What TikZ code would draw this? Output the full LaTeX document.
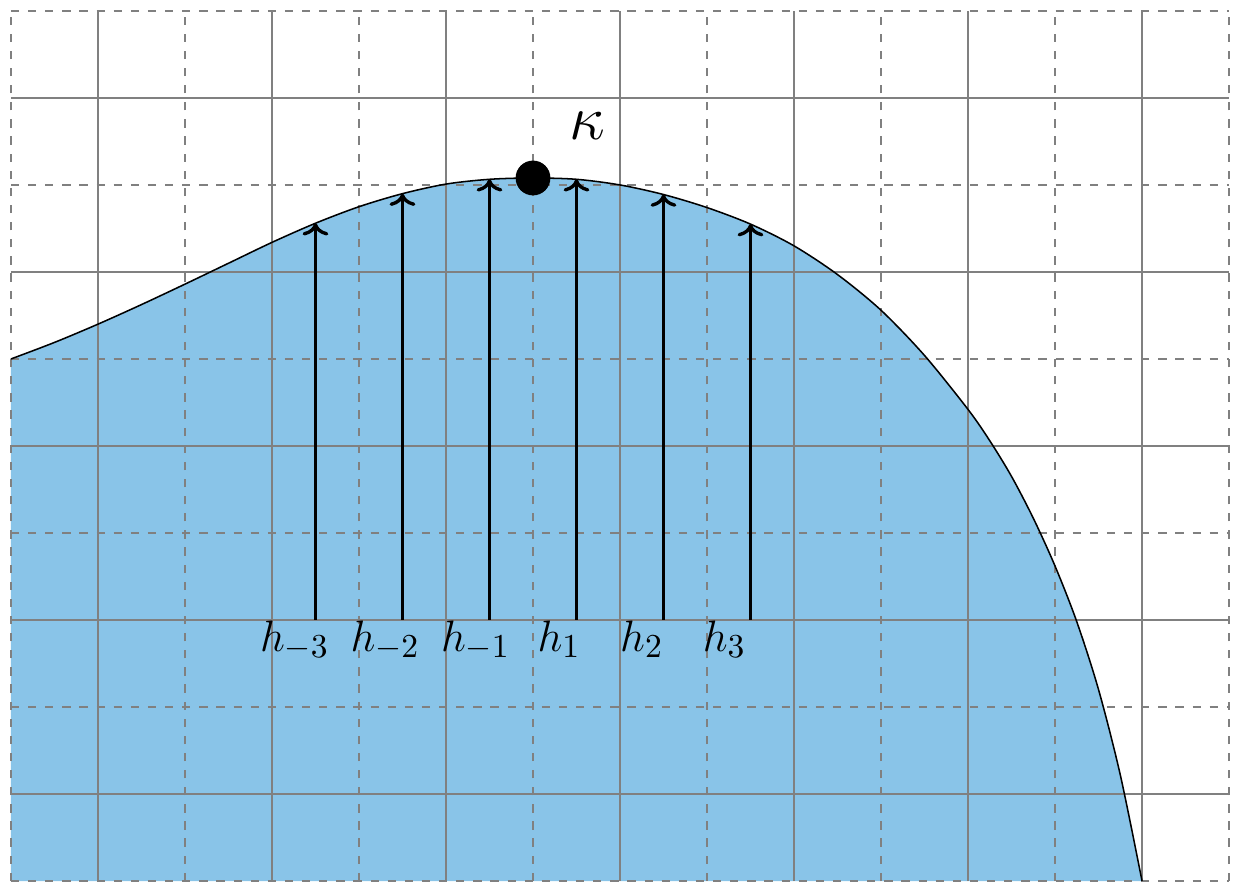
\documentclass[tikz,border=0pt]{standalone}
\usepackage{amsmath}
\usepackage{amssymb}
\usepackage{tikz}
\usetikzlibrary{arrows.meta, positioning}
\definecolor{areablue}{RGB}{137,196,232}
\colorlet{gridgray}{black!50}

\begin{document}
\begin{tikzpicture}[>=To,
    gridline/.style={draw=gridgray, line width=0.6pt},
    griddash/.style={gridline, dash pattern=on 2.7pt off 2.9pt},
    heightarrow/.style={->, line width=1.1pt},
    hlabel/.style={anchor=north, inner sep=0pt, font=\fontsize{15pt}{18pt}\selectfont}]
    \useasboundingbox (-0.126, -0.08) rectangle (14.057, 10.126);

    % region under the curve
    \fill[areablue] (0,0) -- plot[smooth] coordinates {(0,6) (0.5,6.19) (1,6.4) (1.5,6.625) (2,6.86) (2.5,7.1) (3,7.34) (3.5,7.56) (4,7.75) (4.5,7.9) (5,8.01) (5.5,8.065) (6,8.08) (6.5,8.065) (7,8.0) (7.5,7.89) (8,7.74) (8.5,7.55) (9,7.3) (9.5,6.97) (10,6.56) (10.5,6.04) (11,5.42) (11.25,5.06) (11.5,4.65) (11.75,4.17) (12,3.62) (12.25,2.98) (12.5,2.2) (12.75,1.22) (13,0)} -- cycle;

    % grid
    \draw[griddash] (0,0) grid[step=2] (14,10);
    \draw[gridline, shift={(1,1)}] (-1,-1) grid[step=2] (13,9);

    % curve
    \draw[line width=0.5pt] plot[smooth] coordinates {(0,6) (0.5,6.19) (1,6.4) (1.5,6.625) (2,6.86) (2.5,7.1) (3,7.34) (3.5,7.56) (4,7.75) (4.5,7.9) (5,8.01) (5.5,8.065) (6,8.08) (6.5,8.065) (7,8.0) (7.5,7.89) (8,7.74) (8.5,7.55) (9,7.3) (9.5,6.97) (10,6.56) (10.5,6.04) (11,5.42) (11.25,5.06) (11.5,4.65) (11.75,4.17) (12,3.62) (12.25,2.98) (12.5,2.2) (12.75,1.22) (13,0)};

    \coordinate (b-3) at (3.5, 3);  \coordinate (t-3) at (3.5, 7.56);
    \coordinate (b-2) at (4.5, 3);  \coordinate (t-2) at (4.5, 7.90);
    \coordinate (b-1) at (5.5, 3);  \coordinate (t-1) at (5.5, 8.065);
    \coordinate (b1) at (6.5, 3);   \coordinate (t1) at (6.5, 8.065);
    \coordinate (b2) at (7.5, 3);   \coordinate (t2) at (7.5, 7.89);
    \coordinate (b3) at (8.5, 3);   \coordinate (t3) at (8.5, 7.55);

    \draw[heightarrow] (b-3) -- (t-3);
    \draw[heightarrow] (b-2) -- (t-2);
    \draw[heightarrow] (b-1) -- (t-1);
    \draw[heightarrow] (b1) -- (t1);
    \draw[heightarrow] (b2) -- (t2);
    \draw[heightarrow] (b3) -- (t3);

    \node[hlabel] (lab-3) at (3.26, 3) {$h_{-3}$};
    \node[hlabel] (lab-2) at (4.30, 3) {$h_{-2}$};
    \node[hlabel] (lab-1) at (5.34, 3) {$h_{-1}$};
    \node[hlabel] (lab1) at (6.30, 3) {$h_{1}$};
    \node[hlabel] (lab2) at (7.25, 3) {$h_{2}$};
    \node[hlabel] (lab3) at (8.20, 3) {$h_{3}$};

    % peak
    \node[circle, fill=black, inner sep=0pt, minimum size=0.4cm] (peak) at (6, 8.08) {};
    \node (kappa) at (6.62, 8.68) {\huge$\kappa$};
\end{tikzpicture}
\end{document}
